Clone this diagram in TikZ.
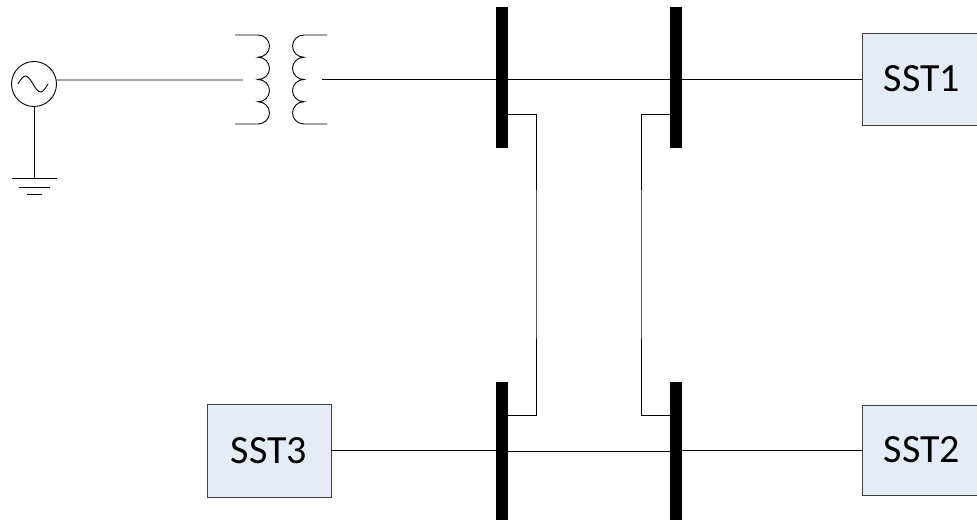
\documentclass[tikz,border=0pt]{standalone}
\usepackage{fontspec}
\setmainfont{Carlito}
\begin{document}
\begin{tikzpicture}[x=1pt,y=-1pt,
  wire/.style={draw=black,line width=0.9pt},
  busbar/.style={rectangle,fill=black,draw=none,minimum width=12pt,inner sep=0pt},
  sstbox/.style={rectangle,draw={rgb,255:red,64;green,64;blue,64},line width=0.9pt,fill={rgb,255:red,230;green,236;blue,247},inner sep=0pt,font=\fontsize{40}{44}\selectfont},
  gen/.style={circle,draw=black,line width=0.9pt,minimum size=45pt,inner sep=0pt}]
\useasboundingbox (0,0) rectangle (977,521);

% generator
\node[gen] (g) at (34,84) {};
\draw[wire] (18,84) sin (25.5,76) cos (33,84) sin (40.5,92) cos (48,84);
\coordinate (gnd) at (34,178);
\draw[wire] (g.south) -- (gnd);
\draw[wire] (12,178) -- (57,178);
\draw[wire] (19,187) -- (50,187);
\draw[wire] (27,194) -- (42,194);

% transformer
\coordinate (tin) at (243,80);
\coordinate (tout) at (322,79);
\draw[wire] (g.10) -- (tin);
\draw[wire] (235,35) -- (258,35)
  arc[start angle=90,end angle=-90,x radius=11.5pt,y radius=11.125pt]
  arc[start angle=90,end angle=-90,x radius=11.5pt,y radius=11.125pt]
  arc[start angle=90,end angle=-90,x radius=11.5pt,y radius=11.125pt]
  arc[start angle=90,end angle=-90,x radius=11.5pt,y radius=11.125pt]
  -- (235,124);
\draw[wire] (327,35) -- (304,35)
  arc[start angle=90,end angle=270,x radius=11.5pt,y radius=11.125pt]
  arc[start angle=90,end angle=270,x radius=11.5pt,y radius=11.125pt]
  arc[start angle=90,end angle=270,x radius=11.5pt,y radius=11.125pt]
  arc[start angle=90,end angle=270,x radius=11.5pt,y radius=11.125pt]
  -- (327,124);

% buses
\node[busbar,minimum height=141pt] (b1) at (502,78) {};
\node[busbar,minimum height=141pt] (b2) at (676,78) {};
\node[busbar,minimum height=138pt] (b3) at (502,451) {};
\node[busbar,minimum height=138pt] (b4) at (676,451) {};

% SST boxes
\node[sstbox,minimum width=120pt,minimum height=92pt] (s1) at (922,79) {SST1};
\node[sstbox,minimum width=120pt,minimum height=90pt] (s2) at (922,450) {SST2};
\node[sstbox,minimum width=124pt,minimum height=93pt] (s3) at (269,450.5) {SST3};

% connections
\draw[wire] (tout) -- (tout -| b1.west);
\draw[wire] (b1.east |- s1.west) -- (b2.west |- s1.west);
\draw[wire] (b2.east |- s1.west) -- (s1.west);
\coordinate (c1) at (536,264);
\coordinate (c2) at (641,264);
\draw[wire] ([yshift=-36pt]b1.east) -| (c1) |- ([yshift=36pt]b3.east);
\draw[wire] ([yshift=-36pt]b2.west) -| (c2) |- ([yshift=36pt]b4.west);
\draw[wire] (s3.east) -- (s3.east -| b3.west);
\draw[wire] (b3.east) -- (b4.west);
\draw[wire] (b4.east |- s2.west) -- (s2.west);
\end{tikzpicture}
\end{document}
